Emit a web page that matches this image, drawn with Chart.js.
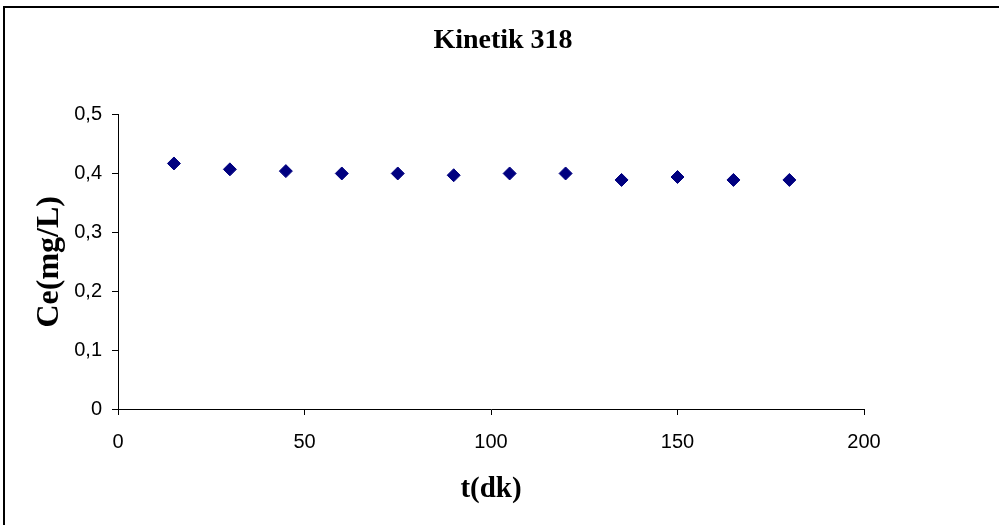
<!DOCTYPE html>
<html>
<head>
<meta charset="utf-8">
<script src="https://cdn.jsdelivr.net/npm/chart.js@4"></script>
<style>
    body { margin: 0; overflow: hidden; background: #fff; }
    #wrap { position: relative; width: 999px; height: 525px; }
    #frame { position: absolute; left: 3px; top: 6px; width: 1200px; height: 700px;
             border-left: 2px solid #000; border-top: 2px solid #000; }
    canvas { position: absolute; left: 0; top: 0; }
</style>
</head>
<body>
<div id="wrap">
    <div id="frame"></div>
    <canvas id="kinetikChart" width="999" height="525"></canvas>
</div>
<script>
// zaman (dk) ve Ce (mg/L) degerleri
const timeLabels = [15, 30, 45, 60, 75, 90, 105, 120, 135, 150, 165, 180]
const ceValues = [0.417, 0.407, 0.404, 0.400, 0.400, 0.397, 0.400, 0.400, 0.389, 0.394, 0.389, 0.389]
const xTicks = [0, 50, 100, 150, 200]
const yTicks = [0, 0.1, 0.2, 0.3, 0.4, 0.5]

const serif = 'Liberation Serif'
const sans = 'Liberation Sans'

const kinetikChart = (id) => {
    let points = []
    for (let i = 0; i < timeLabels.length; i++) {
        points.push({x: timeLabels[i], y: ceValues[i]})
    }

    const data = {
        datasets: [{
            label: 'Kinetik 318',
            data: points,
            pointStyle: 'rectRot',
            pointRadius: 6.5,
            backgroundColor: '#000080',
            borderColor: '#000080',
            borderWidth: 1,
            showLine: false
        }]
    }

    const commaFmt = (v) => Number(v.toFixed(1)).toString().replace('.', ',')

    const config = {
        type: 'scatter',
        data: data,
        options: {
            responsive: false,
            animation: false,
            layout: { padding: { left: 7, right: 0, top: 0, bottom: 0 } },
            plugins: {
                legend: { display: false },
                tooltip: { enabled: false },
                title: {
                    display: true,
                    text: 'Kinetik 318',
                    color: '#000',
                    font: { family: serif, size: 28, weight: 'bold' },
                    padding: { top: 24, bottom: 57 }
                }
            },
            scales: {
                x: {
                    type: 'linear',
                    min: xTicks[0],
                    max: xTicks[xTicks.length - 1],
                    afterBuildTicks: (s) => { s.ticks = xTicks.map(v => ({value: v})) },
                    afterFit: (s) => { s.height = 116 },
                    border: { display: true, color: '#000', width: 1 },
                    grid: { drawOnChartArea: false, drawTicks: true, tickLength: 6, color: '#000' },
                    ticks: { color: '#000', padding: 15, font: { family: sans, size: 20 } },
                    title: {
                        display: true,
                        text: 't(dk)',
                        color: '#000',
                        font: { family: serif, size: 29, weight: 'bold' },
                        padding: { top: 0, bottom: 18 }
                    }
                },
                y: {
                    type: 'linear',
                    position: 'left',
                    min: yTicks[0],
                    max: yTicks[yTicks.length - 1],
                    afterBuildTicks: (s) => { s.ticks = yTicks.map(v => ({value: v})) },
                    afterFit: (s) => { s.width = 111 },
                    border: { display: true, color: '#000', width: 1 },
                    grid: { drawOnChartArea: false, drawTicks: true, tickLength: 6, color: '#000' },
                    ticks: { color: '#000', padding: 10, font: { family: sans, size: 20 }, callback: commaFmt },
                    title: {
                        display: true,
                        text: 'Ce(mg/L)',
                        color: '#000',
                        font: { family: serif, size: 32, weight: 'bold' },
                        padding: { top: 24, bottom: 0 }
                    }
                },
                // bos sag eksen, sadece bosluk icin
                spacer: {
                    type: 'linear',
                    position: 'right',
                    display: true,
                    afterFit: (s) => { s.width = 135 },
                    border: { display: false },
                    grid: { display: false },
                    ticks: { display: false }
                }
            }
        }
    }

    let ctx = document.querySelector(`#${id}`).getContext('2d')
    const myChart = new Chart(ctx, config)
}

kinetikChart('kinetikChart')
</script>
</body>
</html>
